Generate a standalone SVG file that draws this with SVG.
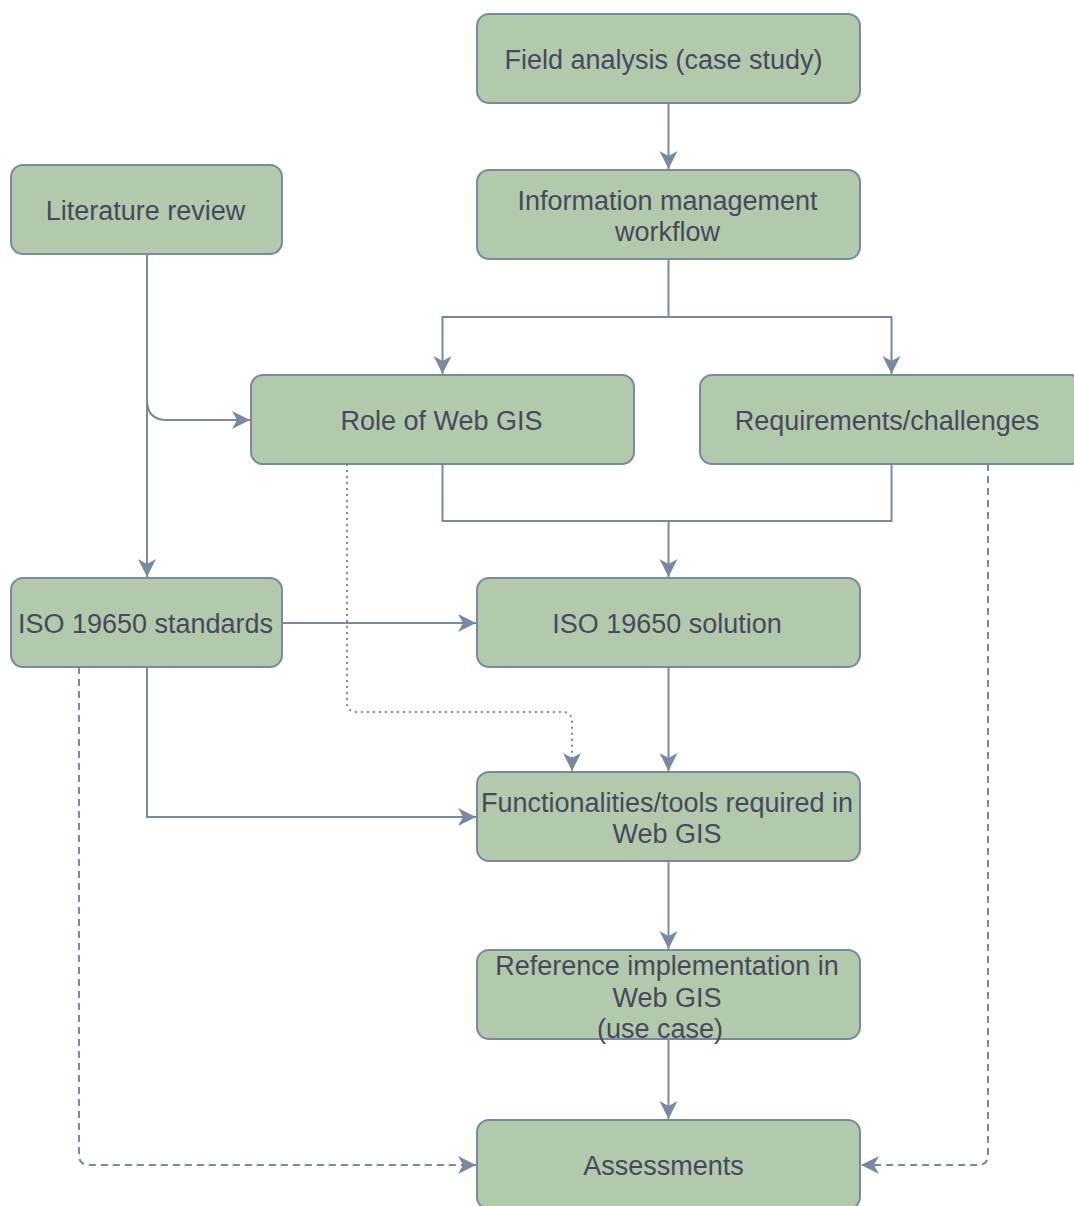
<svg xmlns="http://www.w3.org/2000/svg" width="1074" height="1206" viewBox="0 0 1074 1206">
  <style>
    .box { fill: #B2C9AB; stroke: #788AA3; stroke-width: 2; }
    .lbl { font-family: "Liberation Sans", Arial, sans-serif; font-size: 27px; fill: #46495D; text-anchor: middle; }
    .edge { fill: none; stroke: #788AA3; stroke-width: 2; }
    .dash { stroke-dasharray: 7 5; }
    .dot { stroke-dasharray: 2 4; }
  </style>
  <defs>
    <marker id="arrow" markerUnits="userSpaceOnUse" markerWidth="20" markerHeight="20" refX="18" refY="9" orient="auto">
      <path d="M0,0 L18,9 L0,18 L5,9 Z" fill="#788AA3"/>
    </marker>
  </defs>
  <rect width="1074" height="1206" fill="#FFFFFF"/>

  <!-- connectors -->
  <g id="connectors">
    <path class="edge" d="M668.5,103 V169" marker-end="url(#arrow)"/>
    <path class="edge" d="M668.5,259 V317 H442.5 V374" marker-end="url(#arrow)"/>
    <path class="edge" d="M668.5,317 H891.5 V374" marker-end="url(#arrow)"/>
    <path class="edge" d="M147,254 V577" marker-end="url(#arrow)"/>
    <path class="edge" d="M147,254 V400 Q147,420 167,420 H250" marker-end="url(#arrow)"/>
    <path class="edge" d="M442.5,464 V521 H891.5 V464"/>
    <path class="edge" d="M668.5,521 V577" marker-end="url(#arrow)"/>
    <path class="edge" d="M282,623 H476" marker-end="url(#arrow)"/>
    <path class="edge" d="M668.5,667 V771" marker-end="url(#arrow)"/>
    <path class="edge" d="M147,667 V817 H476" marker-end="url(#arrow)"/>
    <path class="edge dot" d="M347,464 V702 Q347,712 357,712 H562 Q572,712 572,722 V771" marker-end="url(#arrow)"/>
    <path class="edge dash" d="M79,667 V1155 Q79,1165 89,1165 H476" marker-end="url(#arrow)"/>
    <path class="edge dash" d="M988,464 V1155 Q988,1165 978,1165 H861" marker-end="url(#arrow)"/>
    <path class="edge" d="M668.5,861 V949" marker-end="url(#arrow)"/>
    <path class="edge" d="M668.5,1039 V1119" marker-end="url(#arrow)"/>
  </g>

  <!-- nodes -->
  <g id="field-analysis">
    <rect class="box" x="477" y="14" width="383" height="89" rx="12"/>
    <text class="lbl" x="663.5" y="69">Field analysis (case study)</text>
  </g>
  <g id="info-management">
    <rect class="box" x="477" y="170" width="383" height="89" rx="12"/>
    <text class="lbl" x="667.5" y="210">Information management</text>
    <text class="lbl" x="667.5" y="241">workflow</text>
  </g>
  <g id="literature-review">
    <rect class="box" x="11" y="165" width="271" height="89" rx="12"/>
    <text class="lbl" x="145.5" y="220">Literature review</text>
  </g>
  <g id="role-web-gis">
    <rect class="box" x="251" y="375" width="383" height="89" rx="12"/>
    <text class="lbl" x="441.5" y="430">Role of Web GIS</text>
  </g>
  <g id="requirements">
    <rect class="box" x="700" y="375" width="383" height="89" rx="12"/>
    <text class="lbl" x="887" y="430">Requirements/challenges</text>
  </g>
  <g id="iso-standards">
    <rect class="box" x="11" y="578" width="271" height="89" rx="12"/>
    <text class="lbl" x="145.5" y="633">ISO 19650 standards</text>
  </g>
  <g id="iso-solution">
    <rect class="box" x="477" y="578" width="383" height="89" rx="12"/>
    <text class="lbl" x="667" y="633">ISO 19650 solution</text>
  </g>
  <g id="functionalities">
    <rect class="box" x="477" y="772" width="383" height="89" rx="12"/>
    <text class="lbl" x="667" y="812">Functionalities/tools required in</text>
    <text class="lbl" x="667" y="843">Web GIS</text>
  </g>
  <g id="reference-impl">
    <rect class="box" x="477" y="950" width="383" height="89" rx="12"/>
    <text class="lbl" x="667" y="975">Reference implementation in</text>
    <text class="lbl" x="667" y="1007">Web GIS</text>
    <text class="lbl" x="660" y="1038">(use case)</text>
  </g>
  <g id="assessments">
    <rect class="box" x="477" y="1120" width="383" height="89" rx="12"/>
    <text class="lbl" x="663.5" y="1175">Assessments</text>
  </g>
</svg>
